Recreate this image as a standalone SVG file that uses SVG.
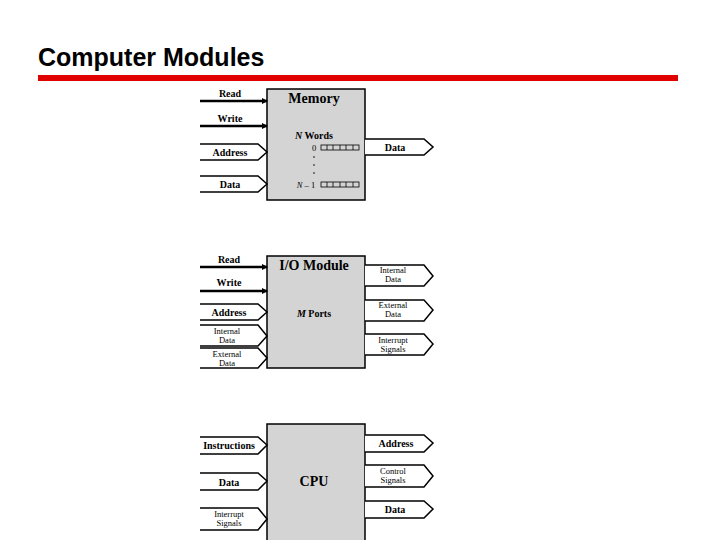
<svg xmlns="http://www.w3.org/2000/svg" width="720" height="540" viewBox="0 0 720 540">
<defs>
<style>
.box{fill:#d4d4d4;stroke:#000;stroke-width:1.5}
.bus{fill:#fff;stroke:#000;stroke-width:1.5}
.ln{stroke:#000;stroke-width:2.5;fill:none}
text{font-family:"Liberation Serif",serif;font-weight:bold;fill:#000;text-anchor:middle}
.s{font-size:10px}
.xs{font-size:8.5px;font-weight:normal}
.t{font-size:14px}
</style>
<marker id="ah" markerWidth="6" markerHeight="6" refX="5" refY="3" orient="auto" markerUnits="userSpaceOnUse"><path d="M0,0L6,3L0,6z" fill="#000"/></marker>
</defs>
<rect width="720" height="540" fill="#fff"/>
<text x="38" y="66" style="font-family:'Liberation Sans',sans-serif;font-size:25px;font-weight:bold;text-anchor:start">Computer Modules</text>
<rect x="38" y="75" width="640" height="6" fill="#e00000"/>

<g id="memory">
<rect class="box" x="267" y="89" width="98" height="111"/>
<text class="t" x="314" y="103">Memory</text>
<text class="s" x="314" y="139"><tspan font-style="italic">N</tspan> Words</text>
<text class="xs" x="314" y="151">0</text>
<circle cx="314" cy="157" r="0.8" fill="#000"/>
<circle cx="314" cy="165" r="0.8" fill="#000"/>
<circle cx="314" cy="173" r="0.8" fill="#000"/>
<text class="xs" x="306" y="188"><tspan font-style="italic">N</tspan> – 1</text>
<g fill="none" stroke="#000" stroke-width="0.8">
<rect x="321" y="145" width="38" height="5"/><path d="M327,145v5M333,145v5M340,145v5M346,145v5M353,145v5"/>
<rect x="321" y="182" width="38" height="5"/><path d="M327,182v5M333,182v5M340,182v5M346,182v5M353,182v5"/>
</g>
</g>

<g id="io">
<rect class="box" x="267" y="256" width="98" height="112"/>
<text class="t" x="314" y="270">I/O Module</text>
<text class="s" x="314" y="317"><tspan font-style="italic">M</tspan> Ports</text>
</g>

<g id="cpu">
<rect class="box" x="267" y="424" width="98" height="120"/>
<text class="t" x="314" y="486">CPU</text>
</g>

<g id="connectors">
<line class="ln" x1="200" y1="101" x2="267" y2="101" marker-end="url(#ah)"/>
<line class="ln" x1="200" y1="126" x2="267" y2="126" marker-end="url(#ah)"/>
<path class="bus" d="M200,144H258L267,152L258,160H200"/>
<path class="bus" d="M200,176H258L267,184L258,192H200"/>
<path class="bus" d="M365,139H424L433,147L424,155H365"/>
<text class="s" x="230" y="97">Read</text>
<text class="s" x="230" y="122">Write</text>
<text class="s" x="230" y="156">Address</text>
<text class="s" x="230" y="188">Data</text>
<text class="s" x="395" y="151">Data</text>

<line class="ln" x1="200" y1="267" x2="267" y2="267" marker-end="url(#ah)"/>
<line class="ln" x1="200" y1="291" x2="267" y2="291" marker-end="url(#ah)"/>
<path class="bus" d="M200,304H258L267,312L258,320H200"/>
<path class="bus" d="M200,325H258L267,336L258,346H200"/>
<path class="bus" d="M200,348H258L267,358L258,368H200"/>
<path class="bus" d="M365,265H424L433,276L424,286H365"/>
<path class="bus" d="M365,300H424L433,310L424,321H365"/>
<path class="bus" d="M365,334H424L433,344L424,355H365"/>
<text class="s" x="229" y="263">Read</text>
<text class="s" x="229" y="286">Write</text>
<text class="s" x="229" y="316">Address</text>
<text class="xs" x="227" y="334">Internal</text>
<text class="xs" x="227" y="343">Data</text>
<text class="xs" x="227" y="357">External</text>
<text class="xs" x="227" y="366">Data</text>
<text class="xs" x="393" y="273">Internal</text>
<text class="xs" x="393" y="282">Data</text>
<text class="xs" x="393" y="308">External</text>
<text class="xs" x="393" y="317">Data</text>
<text class="xs" x="393" y="343">Interrupt</text>
<text class="xs" x="393" y="352">Signals</text>

<path class="bus" d="M200,437H258L267,445L258,454H200"/>
<path class="bus" d="M200,473H258L267,481L258,490H200"/>
<path class="bus" d="M200,508H258L267,519L258,530H200"/>
<path class="bus" d="M365,435H424L433,443L424,452H365"/>
<path class="bus" d="M365,465H424L433,476L424,487H365"/>
<path class="bus" d="M365,501H424L433,509L424,518H365"/>
<text class="s" x="229" y="449">Instructions</text>
<text class="s" x="229" y="486">Data</text>
<text class="xs" x="229" y="517">Interrupt</text>
<text class="xs" x="229" y="526">Signals</text>
<text class="s" x="396" y="447">Address</text>
<text class="xs" x="393" y="474">Control</text>
<text class="xs" x="393" y="483">Signals</text>
<text class="s" x="395" y="513">Data</text>
</g>
</svg>
